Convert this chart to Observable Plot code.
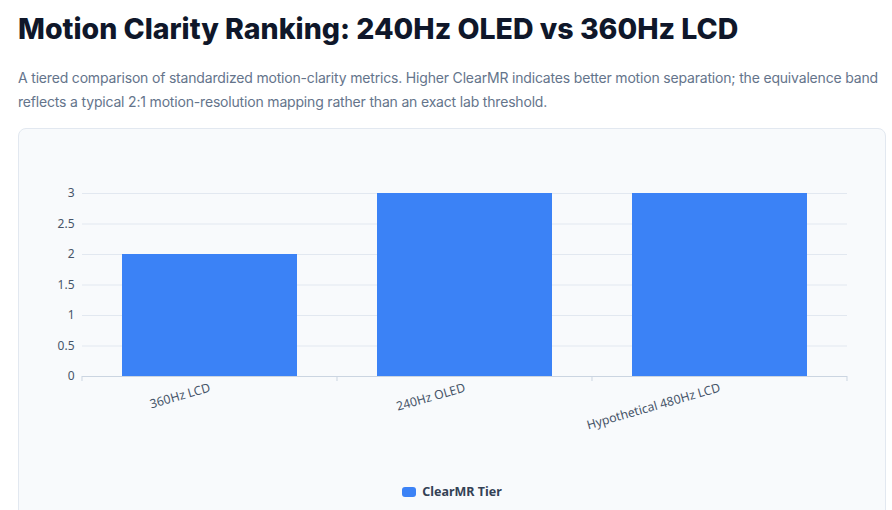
<!DOCTYPE html>
<html>
<head>
<meta charset="utf-8">
<script src="https://cdn.jsdelivr.net/npm/d3@7"></script>
<script src="https://cdn.jsdelivr.net/npm/@observablehq/plot@0.6"></script>
<style>
  html, body { margin: 0; padding: 0; background: #ffffff; }
  body { width: 892px; height: 510px; overflow: hidden; position: relative; font-family: Inter, "Noto Sans", sans-serif; }
  h1 { position: absolute; left: 18px; top: 11px; margin: 0; font-family: Inter, sans-serif; font-weight: 800; font-size: 28.5px; color: #0f172a; letter-spacing: 0px; }
  .sub { position: absolute; left: 18px; top: 66px; width: 872px; margin: 0; font-family: Inter, sans-serif; font-size: 14px; letter-spacing: -0.18px; line-height: 24px; color: #64748b; }
  .card { position: absolute; left: 18px; top: 128px; width: 868px; height: 400px; background: #f8fafc; border: 1px solid #e2e8f0; border-radius: 8px; box-sizing: border-box; }
  #chart { position: absolute; left: 0; top: 0; }
  .legend { position: absolute; left: 0; width: 866px; top: 354px; text-align: center; font-family: "Noto Sans", sans-serif; font-weight: 700; font-size: 12.5px; color: #334155; }
  .sw { display: inline-block; width: 14px; height: 10px; background: #3b82f6; border-radius: 3px; vertical-align: -1px; margin-right: 6px; }
</style>
</head>
<body>
<h1>Motion Clarity Ranking: 240Hz OLED vs 360Hz LCD</h1>
<p class="sub">A tiered comparison of standardized motion-clarity metrics. Higher ClearMR indicates better motion separation; the equivalence band reflects a typical 2:1 motion-resolution mapping rather than an exact lab threshold.</p>
<div class="card">
  <div id="chart"></div>
  <div class="legend"><span class="sw"></span>ClearMR Tier</div>
</div>
<script>
const categories = ["360Hz LCD", "240Hz OLED", "Hypothetical 480Hz LCD"];
const clearMRTier = [2, 3, 3];
const yTicks = [0, 0.5, 1, 1.5, 2, 2.5, 3];

const data = categories.map((c, i) => ({category: c, value: clearMRTier[i]}));

const chart = Plot.plot({
  width: 866,
  height: 340,
  marginLeft: 63,
  marginRight: 38,
  marginTop: 64,
  marginBottom: 93,
  style: {background: "transparent", fontFamily: "'Noto Sans', sans-serif", fontSize: "12px", color: "#475569"},
  x: {domain: categories, paddingInner: 0, paddingOuter: 0, label: null},
  y: {domain: [0, 3], label: null},
  marks: [
    Plot.gridY(yTicks, {stroke: "#e2e8f0", strokeOpacity: 1}),
    Plot.barY(data, {x: "category", y: "value", fill: "#3b82f6", insetLeft: 40, insetRight: 40}),
    Plot.axisY(yTicks, {tickSize: 0, tickPadding: 8, fill: "#475569", fontSize: 12, tickFormat: d => String(d)}),
    Plot.axisX({tickSize: 0, tickPadding: 0, tickRotate: -16, textAnchor: "end", dy: 11, fill: "#475569", fontSize: 12.3}),
    Plot.ruleY([0], {stroke: "#cbd5e1"})
  ]
});
document.getElementById("chart").appendChild(chart);

// band boundary ticks below the axis, placed from the library's x scale
const xs = chart.scale("x");
const ys = chart.scale("y");
const y0 = ys.apply(0);
const edges = categories.map(c => xs.apply(c)).concat([xs.apply(categories[categories.length - 1]) + xs.bandwidth]);
d3.select(chart).append("g")
  .selectAll("line").data(edges).join("line")
  .attr("x1", d => d).attr("x2", d => d)
  .attr("y1", y0).attr("y2", y0 + 5)
  .attr("stroke", "#cbd5e1");
</script>
</body>
</html>
